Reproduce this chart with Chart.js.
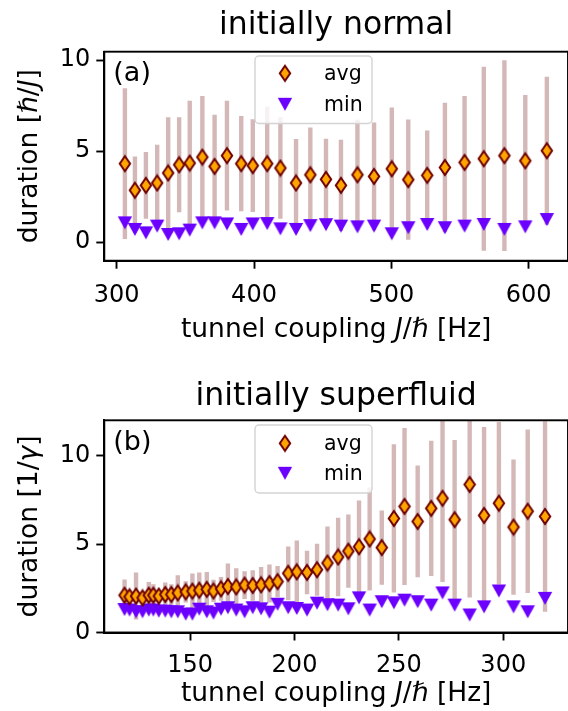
<!DOCTYPE html>
<html><head><meta charset="utf-8">
<script src="https://cdn.jsdelivr.net/npm/chart.js@4.4.0/dist/chart.umd.min.js"></script>
<style>
html,body{margin:0;padding:0;overflow:hidden;background:#fff;}
#wrap{position:relative;width:568px;height:711px;overflow:hidden;background:#fff;}
canvas{position:absolute;left:0;display:block;}
</style></head><body>
<div id="wrap">
<canvas id="c1" width="576" height="355" style="top:0px;width:576px;height:355px"></canvas>
<canvas id="c2" width="576" height="356" style="top:355px;width:576px;height:356px"></canvas>
</div>
<script>
// ---------------- DATA ----------------
const seriesLabels = ['avg', 'min'];

// (a) initially normal
const normalJ   = [306.0,313.3,321.3,329.5,337.5,345.5,353.2,362.4,371.3,380.3,390.7,399.1,409.6,419.2,430.6,441.0,452.4,463.3,475.3,487.4,500.3,512.3,526.1,539.0,553.3,567.3,582.3,597.5,613.2];
const normalAvg = [4.31,2.85,3.12,3.25,3.80,4.25,4.34,4.67,4.16,4.75,4.31,4.20,4.31,4.07,3.25,3.70,3.45,3.12,3.70,3.61,4.03,3.43,3.67,4.10,4.38,4.58,4.75,4.47,5.02];
const normalErr = [4.14,1.86,1.83,2.10,3.06,2.61,3.42,3.36,2.83,3.01,2.62,2.55,3.13,2.79,2.41,2.60,2.23,2.51,3.02,2.96,3.36,3.30,2.46,3.56,3.65,5.06,5.24,3.61,4.07];
const normalMin = [1.06,0.70,0.51,0.88,0.42,0.46,0.66,1.06,1.06,1.00,0.70,1.00,1.02,0.73,0.70,0.91,0.96,0.88,0.84,0.88,0.46,0.79,0.97,0.79,0.88,0.97,0.70,0.84,1.24];

// (b) initially superfluid
const superJ   = [118.6,121.0,124.1,127.2,130.2,132.4,135.0,138.1,141.0,144.1,147.9,151.1,154.4,158.0,161.2,164.8,168.1,172.1,176.1,180.0,184.0,188.0,191.9,197.0,201.1,206.0,210.8,215.8,220.9,225.8,230.9,236.0,241.8,247.6,252.7,259.0,265.5,270.9,276.7,283.9,290.8,297.9,304.9,311.7,320.0];
const superAvg = [2.11,2.02,2.06,1.96,2.11,2.11,2.06,2.15,2.15,2.24,2.30,2.34,2.39,2.44,2.35,2.47,2.60,2.58,2.68,2.66,2.70,2.77,2.88,3.35,3.43,3.40,3.55,3.93,4.27,4.60,4.85,5.29,4.80,6.45,7.13,6.28,7.02,7.59,6.38,8.37,6.62,7.31,5.96,6.86,6.56];
const superErr = [0.89,0.30,1.33,0.30,0.75,0.62,0.35,0.68,0.58,1.00,0.60,1.00,1.00,0.98,0.63,0.67,1.30,1.06,0.78,0.86,1.01,1.08,0.88,1.52,1.77,1.23,1.47,2.07,2.22,2.07,2.61,2.91,2.10,4.19,4.44,3.16,3.83,4.73,4.50,6.39,5.00,4.59,3.83,4.62,5.39];
const superMin = [1.30,1.27,1.17,1.17,1.27,1.27,1.21,1.21,1.17,1.17,1.04,1.04,1.32,1.17,1.10,1.32,1.40,1.27,1.17,1.40,1.34,1.15,1.60,1.40,1.36,1.27,1.66,1.57,1.55,1.34,1.96,1.27,1.74,1.68,1.83,1.74,1.55,2.24,1.55,0.99,1.45,2.35,1.45,1.17,1.93];

// tick labels
const xTicksNormal = [300, 400, 500, 600];
const yTicksNormal = [0, 5, 10];
const xTicksSuper  = [150, 200, 250, 300];
const yTicksSuper  = [0, 5, 10];

// ---------------- STYLE ----------------
const FONT = "'DejaVu Sans', 'Liberation Sans', sans-serif";
const AVG_FACE = '#ffa500', AVG_EDGE = '#6e0000';
const MIN_COLOR = '#6c00ff';
const BAR_COLOR = '#d4b8b8';

function makeDiamond() {
  const c = document.createElement('canvas');
  c.width = 16; c.height = 19;
  const g = c.getContext('2d');
  g.beginPath();
  g.moveTo(8, 2.0); g.lineTo(13.2, 9.5); g.lineTo(8, 17.0); g.lineTo(2.8, 9.5); g.closePath();
  g.fillStyle = AVG_FACE; g.fill();
  g.lineWidth = 2.0; g.strokeStyle = AVG_EDGE; g.lineJoin = 'miter'; g.stroke();
  return c;
}
function makeTriangle() {
  const c = document.createElement('canvas');
  c.width = 16; c.height = 15;
  const g = c.getContext('2d');
  g.beginPath();
  g.moveTo(0.8, 1); g.lineTo(15.2, 1); g.lineTo(8, 14); g.closePath();
  g.fillStyle = MIN_COLOR; g.fill();
  return c;
}
const diamondImg = makeDiamond();
const triangleImg = makeTriangle();

function richWidth(ctx, segs, size) {
  let w = 0;
  for (const s of segs) { ctx.font = (s.it ? 'italic ' : '') + size + 'px ' + FONT; w += ctx.measureText(s.t).width; }
  return w;
}
function drawRich(ctx, segs, size, cx, cy) {
  const w = richWidth(ctx, segs, size);
  let x = cx - w / 2;
  ctx.textBaseline = 'alphabetic';
  ctx.textAlign = 'left';
  for (const s of segs) {
    ctx.font = (s.it ? 'italic ' : '') + size + 'px ' + FONT;
    ctx.fillText(s.t, x, cy);
    x += ctx.measureText(s.t).width;
  }
}

function buildChart(canvasId, cfg) {
  const errData = cfg.J.flatMap((x, i) => [
    {x: x, y: cfg.avg[i] - cfg.err[i]},
    {x: x, y: cfg.avg[i] + cfg.err[i]},
    {x: x, y: null}
  ]);
  const avgData = cfg.J.map((x, i) => ({x: x, y: cfg.avg[i]}));
  const minData = cfg.J.map((x, i) => ({x: x, y: cfg.min[i]}));

  const deco = {
    id: 'deco',
    afterDraw(chart) {
      const ctx = chart.ctx;
      const a = chart.chartArea;
      ctx.save();
      ctx.strokeStyle = '#000'; ctx.lineWidth = 1.9;
      ctx.strokeRect(a.left, a.top, a.right - a.left, a.bottom - a.top);
      ctx.fillStyle = '#000';
      ctx.font = '31.5px ' + FONT; ctx.textAlign = 'center'; ctx.textBaseline = 'alphabetic';
      ctx.fillText(cfg.title, (a.left + a.right) / 2, cfg.titleY);
      ctx.font = '27px ' + FONT; ctx.textAlign = 'left';
      ctx.fillText(cfg.panel, a.left + 9, a.top + cfg.panelDy);
      drawRich(ctx, cfg.xlabel, 26.5, (a.left + a.right) / 2, cfg.xlabelY);
      ctx.save();
      ctx.translate(cfg.ylabelX, (a.top + a.bottom) / 2);
      ctx.rotate(-Math.PI / 2);
      drawRich(ctx, cfg.ylabel, 26.5, 0, 0);
      ctx.restore();
      const L = cfg.legend;
      ctx.beginPath();
      ctx.roundRect(L.x, L.y, L.w, L.h, 4);
      ctx.fillStyle = 'rgba(255,255,255,0.8)'; ctx.fill();
      ctx.strokeStyle = '#d3d3d3'; ctx.lineWidth = 1.4; ctx.stroke();
      ctx.drawImage(diamondImg, L.mx - 8, L.y1 - 9.5);
      ctx.drawImage(triangleImg, L.mx - 8, L.y2 - 7.5);
      ctx.fillStyle = '#000'; ctx.font = '20.5px ' + FONT; ctx.textAlign = 'left'; ctx.textBaseline = 'middle';
      ctx.fillText(seriesLabels[0], L.tx, L.y1 + 1);
      ctx.fillText(seriesLabels[1], L.tx, L.y2 + 1);
      ctx.restore();
    }
  };

  const tickCommon = {color: '#000', font: {family: FONT, size: 24}, autoSkip: false, maxRotation: 0};
  const gridCommon = {display: true, drawOnChartArea: false, drawTicks: true, tickLength: 8, tickWidth: 1.9, tickColor: '#000', color: '#000'};

  return new Chart(document.getElementById(canvasId), {
    type: 'line',
    data: {
      datasets: [
        {label: 'err', data: errData, borderColor: BAR_COLOR, borderWidth: 4.4, borderCapStyle: 'butt',
         pointRadius: 0, spanGaps: false, tension: 0, clip: 0, order: 3},
        {label: seriesLabels[1], data: minData, showLine: false, pointStyle: triangleImg, pointRadius: 7, order: 2, clip: false},
        {label: seriesLabels[0], data: avgData, showLine: false, pointStyle: diamondImg, pointRadius: 7, order: 1, clip: false}
      ]
    },
    options: {
      responsive: false, animation: false, devicePixelRatio: 1,
      layout: {padding: cfg.padding},
      plugins: {legend: {display: false}, tooltip: {enabled: false}, title: {display: false}},
      scales: {
        x: {type: 'linear', position: 'bottom', min: cfg.xmin, max: cfg.xmax,
            afterBuildTicks: s => { s.ticks = cfg.xTicks.map(v => ({value: v})); },
            afterFit: s => { s.height = cfg.xAxisH; },
            grid: gridCommon, border: {display: true, color: '#000', width: 1.9},
            ticks: Object.assign({padding: cfg.xTickPad}, tickCommon)},
        y: {type: 'linear', position: 'left', min: cfg.ymin, max: cfg.ymax,
            afterBuildTicks: s => { s.ticks = cfg.yTicks.map(v => ({value: v})); },
            afterFit: s => { s.width = cfg.yAxisW; },
            grid: gridCommon, border: {display: true, color: '#000', width: 1.9},
            ticks: Object.assign({padding: 6}, tickCommon)}
      }
    },
    plugins: [deco]
  });
}

buildChart('c1', {
  J: normalJ, avg: normalAvg, err: normalErr, min: normalMin,
  xmin: 291.0, xmax: 628.6, ymin: -1.02, ymax: 10.46,
  xTicks: xTicksNormal, yTicks: yTicksNormal, xTickPad: 13,
  padding: {top: 51.7, left: 0, right: 576 - 570.1, bottom: 0},
  yAxisW: 104.3, xAxisH: 355 - 260.7,
  title: 'initially normal', titleY: 34,
  panel: '(a)', panelDy: 29,
  xlabel: [{t: 'tunnel coupling '}, {t: 'J', it: true}, {t: '/'}, {t: 'ℏ', it: true}, {t: ' [Hz]'}], xlabelY: 337,
  ylabel: [{t: 'duration ['}, {t: 'ℏ', it: true}, {t: '/'}, {t: 'J', it: true}, {t: ']'}], ylabelX: 37,
  legend: {x: 255, y: 56, w: 117, h: 67.5, mx: 285, y1: 73.3, y2: 104.3, tx: 324}
});

buildChart('c2', {
  J: superJ, avg: superAvg, err: superErr, min: superMin,
  xmin: 108.9, xmax: 331.0, ymin: 0, ymax: 12,
  xTicks: xTicksSuper, yTicks: yTicksSuper, xTickPad: 11,
  padding: {top: 65.3, left: 0, right: 576 - 570.1, bottom: 0},
  yAxisW: 104.3, xAxisH: 356 - 277.5,
  title: 'initially superfluid', titleY: 50,
  panel: '(b)', panelDy: 30,
  xlabel: [{t: 'tunnel coupling '}, {t: 'J', it: true}, {t: '/'}, {t: 'ℏ', it: true}, {t: ' [Hz]'}], xlabelY: 346,
  ylabel: [{t: 'duration [1/'}, {t: 'γ', it: true}, {t: ']'}], ylabelX: 37,
  legend: {x: 255, y: 70, w: 117, h: 68, mx: 285, y1: 88.3, y2: 118.3, tx: 324}
});
</script>
</body></html>
